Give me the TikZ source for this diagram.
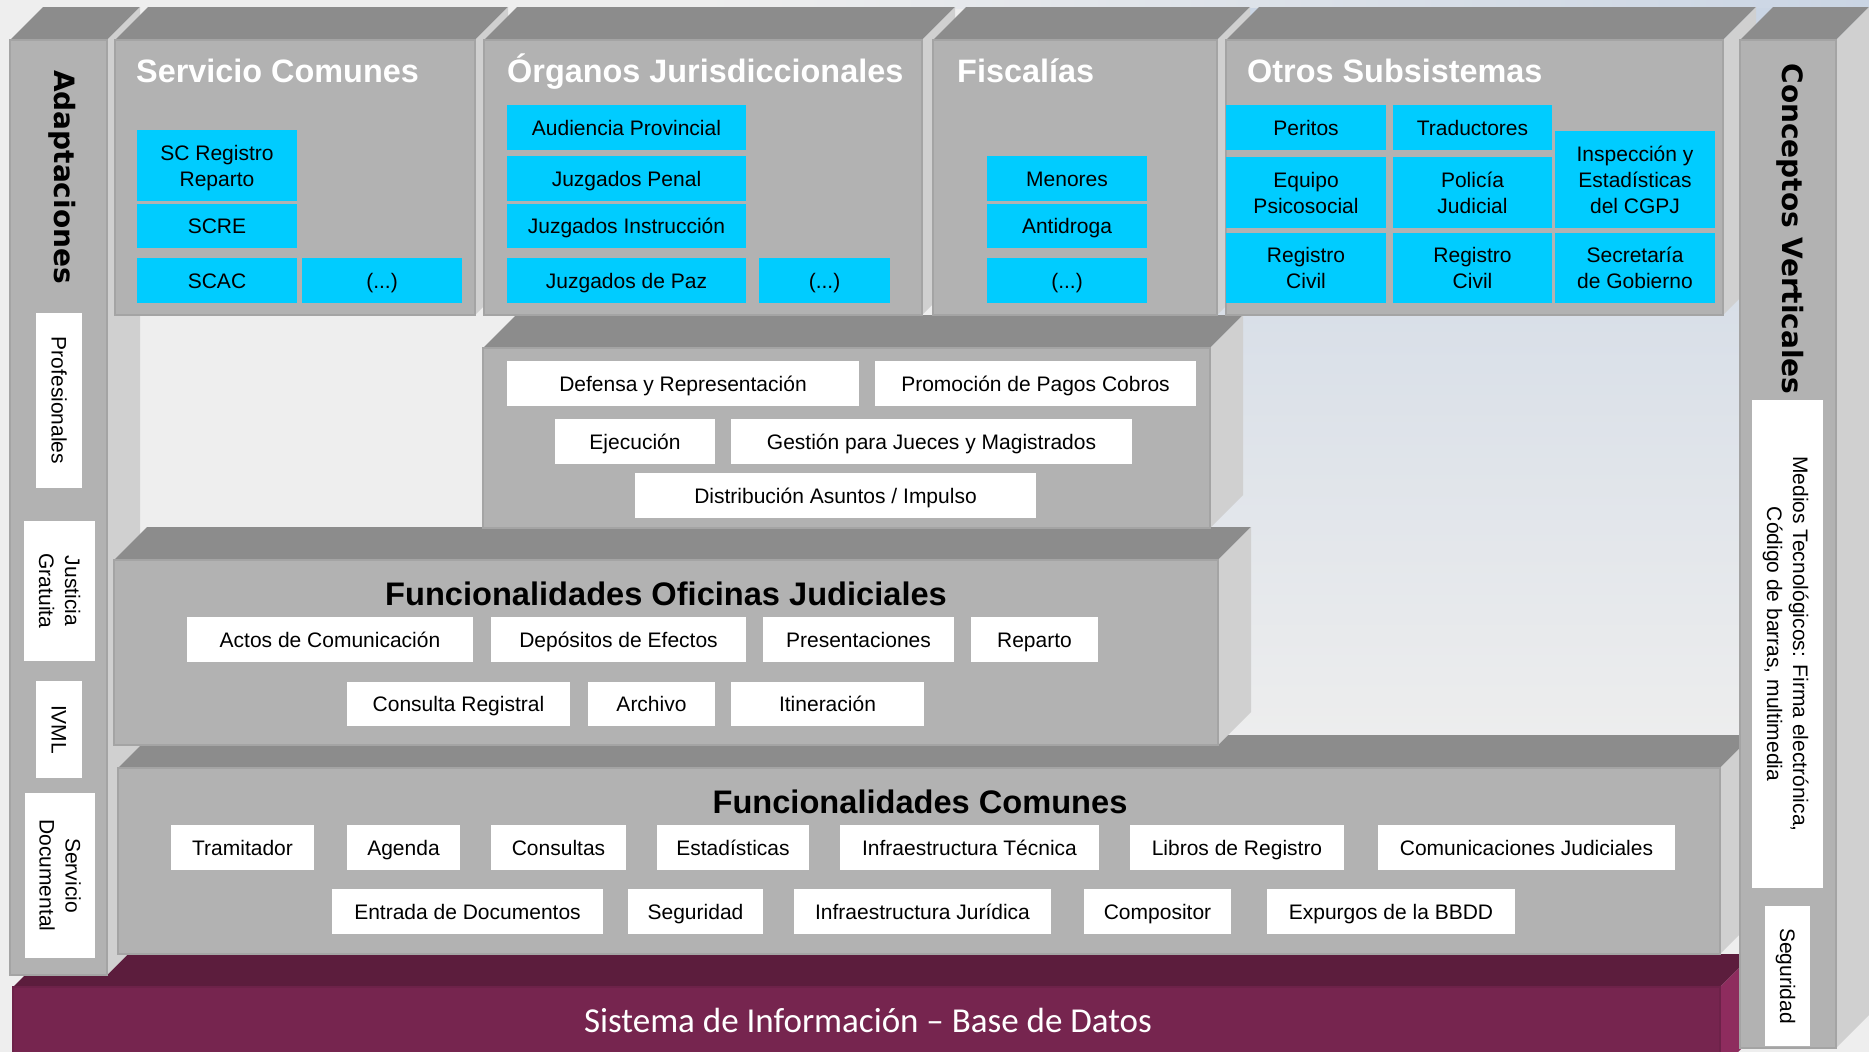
\documentclass[tikz,border=0pt]{standalone}
\usepackage{fontspec}
\setmainfont{Liberation Sans}
\newfontfamily\verdb{DejaVu Sans}
\newfontfamily\dbfont{Carlito}
\usepackage{tikz}

\definecolor{frontgray}{HTML}{B2B2B2}
\definecolor{topgray}{HTML}{8C8C8C}
\definecolor{sidegray}{HTML}{D0D0D0}
\definecolor{skyfill}{HTML}{00CCFF}
\definecolor{dbfront}{HTML}{76254F}
\definecolor{dbtop}{HTML}{5C1D3D}
\definecolor{dbside}{HTML}{8E2C5E}
\definecolor{bggray}{HTML}{EEEEEE}
\definecolor{bgblue}{HTML}{CAD5E4}

% equal line height for every box text
\newcommand\linestrut{\rule[-5pt]{0pt}{25pt}}

\tikzset{
  tile/.style={inner sep=0pt, outer sep=0pt, align=center, font=\fontsize{21}{26}\selectfont},
  cyanbox/.style={tile, fill=skyfill},
  whitebox/.style={tile, fill=white},
  sidebox/.style={tile, fill=white, rotate=-90},
  paneltitle/.style={inner sep=0pt, anchor=base west, text=white, font=\fontsize{32.4}{36}\selectfont\bfseries},
  blocktitle/.style={inner sep=0pt, anchor=base, font=\fontsize{32.6}{36}\selectfont\bfseries},
  coltitle/.style={inner sep=0pt, anchor=base, rotate=-90, font=\verdb\fontsize{28}{32}\selectfont\bfseries},
}

% block with front, top and right face (depth 33)
\newcommand\cuboid[7]{%
  \fill[#6] (#1,#2) -- ++(33,-33) -- ({#3+33},{#2-33}) -- (#3,#2) -- cycle;
  \fill[#7] (#3,#2) -- ++(33,-33) -- ({#3+33},{#4-33}) -- (#3,#4) -- cycle;
  \filldraw[fill=#5, draw=black!8!#5, line width=1.5] (#1,#2) rectangle (#3,#4);}
% box from (x1,y1) to (x2,y2)
\newcommand\boxat[7]{%
  \pgfmathsetmacro\boxw{#5-#3}%
  \pgfmathsetmacro\boxh{#6-#4}%
  \node[#1, minimum width=\boxw pt, minimum height=\boxh pt] (#2) at ({(#3+#5)/2},{(#4+#6)/2}) {\linestrut#7\linestrut};}
\newcommand\sideboxat[7]{%
  \pgfmathsetmacro\boxw{#6-#4}%
  \pgfmathsetmacro\boxh{#5-#3}%
  \node[#1, minimum width=\boxw pt, minimum height=\boxh pt] (#2) at ({(#3+#5)/2},{(#4+#6)/2}) {\linestrut#7\linestrut};}

\begin{document}
\begin{tikzpicture}[x=1pt,y=-1pt]
    \useasboundingbox (0,0) rectangle (1869,1052);
    \clip (0,0) rectangle (1869,1052);
    \fill[bggray] (0,0) rectangle (1869,1052);
    \shade[left color=bggray, right color=bgblue] (700,0) rectangle (1869,8);
    \shade[top color=bgblue, bottom color=bggray] (1200,8) rectangle (1869,760);

    % layers, bottom first
    \cuboid{13}{987}{1720}{1070}{dbfront}{dbtop}{dbside}
    \cuboid{10}{40}{107}{975}{frontgray}{topgray}{sidegray}
    \cuboid{118}{768}{1720}{954}{frontgray}{topgray}{sidegray}
    \cuboid{114}{560}{1218}{745}{frontgray}{topgray}{sidegray}
    \cuboid{483}{348}{1210}{528}{frontgray}{topgray}{sidegray}
    \foreach \xa/\xb in {115/475,484/922,933/1217,1226/1723}
        {\cuboid{\xa}{40}{\xb}{315}{frontgray}{topgray}{sidegray}}
    \cuboid{1740}{40}{1836}{1048}{frontgray}{topgray}{sidegray}

    % titles
    \node[paneltitle] (tServ) at (136,82) {Servicio Comunes};
    \node[paneltitle] (tOrg) at (507,82) {Órganos Jurisdiccionales};
    \node[paneltitle] (tFis) at (957,82) {Fiscalías};
    \node[paneltitle] (tOtr) at (1247,82) {Otros Subsistemas};
    \node[blocktitle] (tOfi) at (666,605) {Funcionalidades Oficinas Judiciales};
    \node[blocktitle] (tCom) at (920,813) {Funcionalidades Comunes};
    \node[inner sep=0pt, anchor=base, text=white, font=\dbfont\fontsize{35}{40}\selectfont] (tDB) at (868,1032) {Sistema de Información – Base de Datos};
    \node[coltitle] (tAdap) at (54,177) {Adaptaciones};
    \node[coltitle] (tConc) at (1782,229) {Conceptos Verticales};

    % Servicio Comunes
    \boxat{cyanbox}{scReg}{137}{130}{297}{201}{SC Registro\\Reparto}
    \boxat{cyanbox}{scre}{137}{204}{297}{248}{SCRE}
    \boxat{cyanbox}{scac}{137}{258}{297}{303}{SCAC}
    \boxat{cyanbox}{scEtc}{302}{258}{462}{303}{(...)}
    % Organos Jurisdiccionales
    \boxat{cyanbox}{audProv}{507}{105}{746}{150}{Audiencia Provincial}
    \boxat{cyanbox}{juzPen}{507}{156}{746}{201}{Juzgados Penal}
    \boxat{cyanbox}{juzIns}{507}{204}{746}{248}{Juzgados Instrucción}
    \boxat{cyanbox}{juzPaz}{507}{258}{746}{303}{Juzgados de Paz}
    \boxat{cyanbox}{orgEtc}{759}{258}{890}{303}{(...)}
    % Fiscalias
    \boxat{cyanbox}{menores}{987}{156}{1147}{201}{Menores}
    \boxat{cyanbox}{antidroga}{987}{204}{1147}{248}{Antidroga}
    \boxat{cyanbox}{fisEtc}{987}{258}{1147}{303}{(...)}
    % Otros Subsistemas
    \boxat{cyanbox}{peritos}{1226}{105}{1386}{150}{Peritos}
    \boxat{cyanbox}{traduct}{1393}{105}{1552}{150}{Traductores}
    \boxat{cyanbox}{equipo}{1226}{157}{1386}{228}{Equipo\\Psicosocial}
    \boxat{cyanbox}{policia}{1393}{157}{1552}{228}{Policía\\Judicial}
    \boxat{cyanbox}{inspec}{1555}{131}{1715}{228}{Inspección y\\Estadísticas\\del CGPJ}
    \boxat{cyanbox}{regCivA}{1226}{233}{1386}{303}{Registro\\Civil}
    \boxat{cyanbox}{regCivB}{1393}{233}{1552}{303}{Registro\\Civil}
    \boxat{cyanbox}{secGob}{1555}{233}{1715}{303}{Secretaría\\de Gobierno}

    % middle block
    \boxat{whitebox}{defensa}{507}{361}{859}{406}{Defensa y Representación}
    \boxat{whitebox}{promoc}{875}{361}{1196}{406}{Promoción de Pagos Cobros}
    \boxat{whitebox}{ejec}{555}{419}{715}{464}{Ejecución}
    \boxat{whitebox}{gestion}{731}{419}{1132}{464}{Gestión para Jueces y Magistrados}
    \boxat{whitebox}{distrib}{635}{473}{1036}{518}{Distribución Asuntos / Impulso}

    % Funcionalidades Oficinas Judiciales
    \boxat{whitebox}{actos}{187}{617}{473}{662}{Actos de Comunicación}
    \boxat{whitebox}{depos}{491}{617}{746}{662}{Depósitos de Efectos}
    \boxat{whitebox}{present}{763}{617}{954}{662}{Presentaciones}
    \boxat{whitebox}{reparto}{971}{617}{1098}{662}{Reparto}
    \boxat{whitebox}{consReg}{347}{682}{570}{726}{Consulta Registral}
    \boxat{whitebox}{archivo}{588}{682}{715}{726}{Archivo}
    \boxat{whitebox}{itiner}{731}{682}{924}{726}{Itineración}

    % Funcionalidades Comunes
    \boxat{whitebox}{tramit}{171}{825}{314}{870}{Tramitador}
    \boxat{whitebox}{agenda}{347}{825}{460}{870}{Agenda}
    \boxat{whitebox}{consultas}{491}{825}{626}{870}{Consultas}
    \boxat{whitebox}{estad}{657}{825}{809}{870}{Estadísticas}
    \boxat{whitebox}{infTec}{840}{825}{1099}{870}{Infraestructura Técnica}
    \boxat{whitebox}{libros}{1130}{825}{1344}{870}{Libros de Registro}
    \boxat{whitebox}{comJud}{1378}{825}{1675}{870}{Comunicaciones Judiciales}
    \boxat{whitebox}{entrada}{332}{889}{603}{934}{Entrada de Documentos}
    \boxat{whitebox}{segCom}{628}{889}{763}{934}{Seguridad}
    \boxat{whitebox}{infJur}{794}{889}{1051}{934}{Infraestructura Jurídica}
    \boxat{whitebox}{composit}{1084}{889}{1231}{934}{Compositor}
    \boxat{whitebox}{expurgos}{1267}{889}{1515}{934}{Expurgos de la BBDD}

    % vertical columns
    \sideboxat{sidebox}{prof}{36}{313}{82}{488}{Profesionales}
    \sideboxat{sidebox}{justG}{24}{521}{95}{661}{Justicia\\Gratuita}
    \sideboxat{sidebox}{ivml}{36}{681}{82}{778}{IVML}
    \sideboxat{sidebox}{servDoc}{25}{793}{95}{958}{Servicio\\Documental}
    \sideboxat{sidebox}{medios}{1752}{400}{1823}{888}{Medios Tecnológicos: Firma electrónica,\\Código de barras, multimedia}
    \sideboxat{sidebox}{segVert}{1765}{906}{1810}{1046}{Seguridad}
\end{tikzpicture}
\end{document}
